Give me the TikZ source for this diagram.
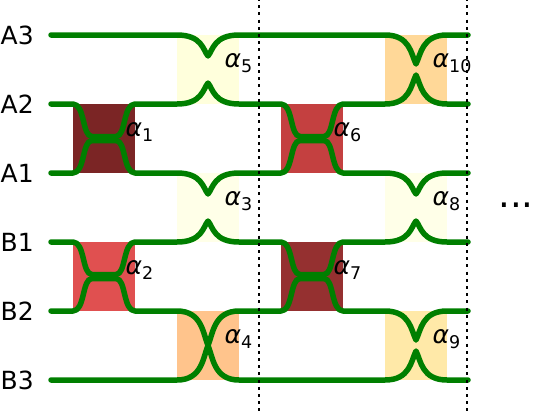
\documentclass[tikz,border=0pt]{standalone}
\usepackage{fontspec}
\setmainfont{DejaVu Sans}
\usepackage{xcolor}
\usetikzlibrary{positioning}
\definecolor{wiregreen}{HTML}{007F00}
\definecolor{gOne}{HTML}{7B2525}
\definecolor{gTwo}{HTML}{E05050}
\definecolor{gThree}{HTML}{FFFFE8}
\definecolor{gFour}{HTML}{FFC48C}
\definecolor{gFive}{HTML}{FFFFDC}
\definecolor{gSix}{HTML}{C44040}
\definecolor{gSeven}{HTML}{953030}
\definecolor{gEight}{HTML}{FFFFE8}
\definecolor{gNine}{HTML}{FFE9A8}
\definecolor{gTen}{HTML}{FFD898}
% dip or crossing on a wire: centre x, wire y, offset, tip slope
\newcommand{\gatecurve}[4]{-- ({#1-31},#2) .. controls ({#1-6},#2) and ({#1-5},{#2+#3-#4}) .. (#1,{#2+#3}) .. controls ({#1+5},{#2+#3-#4}) and ({#1+6},#2) .. ({#1+31},#2)}
% coupler with a flat waist: centre x, wire y, offset
\newcommand{\gateflat}[3]{-- ({#1-31},#2) .. controls ({#1-19},#2) and ({#1-22},{#2+#3}) .. ({#1-12},{#2+#3}) -- ({#1+12},{#2+#3}) .. controls ({#1+22},{#2+#3}) and ({#1+19},#2) .. ({#1+31},#2)}
\begin{document}
\begin{tikzpicture}[x=1pt, y=-1pt, font=\fontsize{25}{27}\selectfont,
  gatebox/.style={minimum width=62pt, minimum height=69pt, inner sep=0pt, outer sep=0pt},
  wire/.style={draw=wiregreen, line width=5.5pt, line cap=round, line join=round},
  cut/.style={black, line width=2.6pt, dash pattern=on 3pt off 4.2pt, dash phase=2pt},
  rowlab/.style={anchor=west, inner sep=0pt},
  alab/.style={anchor=base west, inner sep=0pt}]
\useasboundingbox (0,0) rectangle (534,415);
% couplers
\foreach \nm/\cx/\cy/\col/\off in {1/104/138.5/gOne/9.5, 2/104/276.5/gTwo/9.5, 3/208/207.5/gThree/14.5, 4/208/345.5/gFour/14.5, 5/208/69.5/gFive/14.5, 6/312/138.5/gSix/9.5, 7/312/276.5/gSeven/9.5, 8/416/207.5/gEight/14.5, 9/416/345.5/gNine/14.5, 10/416/69.5/gTen/14.5} {
  \node[gatebox, fill=\col] (g\nm) at (\cx,\cy) {};
  \node[alab] (a\nm) at ([xshift=-\off pt, yshift=1.7pt]g\nm.east) {\textit{α}\raisebox{-4.5pt}{\fontsize{17.5}{18}\selectfont\nm}};
}
% row labels
\node[rowlab] (a3) at (0.5,35.5) {A3};
\node[rowlab] (a2) at (0.5,104.5) {A2};
\node[rowlab] (a1) at (0.5,173.5) {A1};
\node[rowlab] (b1) at (0.5,242.5) {B1};
\node[rowlab] (b2) at (0.5,311.5) {B2};
\node[rowlab] (b3) at (0.5,380.5) {B3};
% wire ends
\foreach \nm/\wy in {a3/35, a2/104, a1/173, b1/242, b2/311, b3/380} {
  \coordinate (\nm s) at (51,\wy);
  \coordinate (\nm e) at (468,\wy);
}
\draw[wire] (a3s) \gatecurve{208}{35}{21}{6} \gatecurve{416}{35}{29}{10} -- (a3e);
\draw[wire] (a2s) \gateflat{104}{104}{32.5} \gatecurve{208}{104}{-21}{-6} \gateflat{312}{104}{32.5} \gatecurve{416}{104}{-29}{-10} -- (a2e);
\draw[wire] (a1s) \gateflat{104}{173}{-32.5} \gatecurve{208}{173}{21}{6} \gateflat{312}{173}{-32.5} \gatecurve{416}{173}{21}{6} -- (a1e);
\draw[wire] (b1s) \gateflat{104}{242}{32.5} \gatecurve{208}{242}{-21}{-6} \gateflat{312}{242}{32.5} \gatecurve{416}{242}{-21}{-6} -- (b1e);
\draw[wire] (b2s) \gateflat{104}{311}{-32.5} \gatecurve{208}{311}{34.5}{12} \gateflat{312}{311}{-32.5} \gatecurve{416}{311}{29}{10} -- (b2e);
\draw[wire] (b3s) \gatecurve{208}{380}{-34.5}{-12} \gatecurve{416}{380}{-29}{-10} -- (b3e);
% time slices
\coordinate (c1t) at (259,0);
\coordinate (c1b) at (259,415);
\coordinate (c2t) at (467,0);
\coordinate (c2b) at (467,415);
\draw[cut] (c1t) -- (c1b);
\draw[cut] (c2t) -- (c2b);
\node[inner sep=0pt, anchor=base, font=\fontsize{37}{37}\selectfont] (more) at (516,207) {...};
\end{tikzpicture}
\end{document}
